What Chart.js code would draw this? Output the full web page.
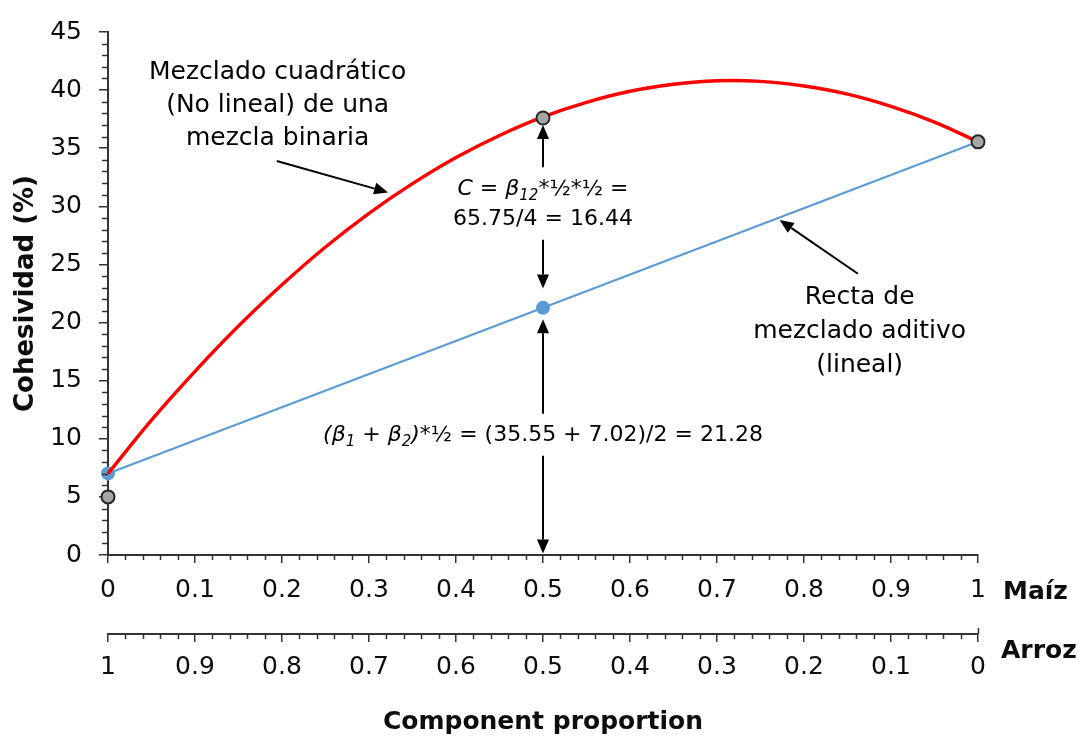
<!DOCTYPE html>
<html><head><meta charset="utf-8">
<script src="https://cdn.jsdelivr.net/npm/chart.js@4.4.1/dist/chart.umd.min.js"></script>
<style>html,body{margin:0;padding:0;background:#fff;}#wrap{width:1083px;height:740px;}</style>
</head><body><div id="wrap"><canvas id="c" width="1083" height="740"></canvas></div>
<script>
// ---- data ----
const proportion = [0,0.05,0.1,0.15,0.2,0.25,0.3,0.35,0.4,0.45,0.5,0.55,0.6,0.65,0.7,0.75,0.8,0.85,0.9,0.95,1];
const quadCohesion = [7.0,11.6,15.8,19.7,23.25,26.5,29.4,31.95,34.2,36.1,37.7,38.95,39.9,40.5,40.8,40.75,40.35,39.65,38.6,37.25,35.55];
const linearX = [0,0.5,1];
const linearCohesion = [7.02,21.28,35.55];
const observedX = [0,0.5,1];
const observedCohesion = [5.0,37.6,35.55];
const yTicks = [0,5,10,15,20,25,30,35,40,45];
const yTickLabels = ['0','5','10','15','20','25','30','35','40','45'];
const maizTicks = [0,0.1,0.2,0.3,0.4,0.5,0.6,0.7,0.8,0.9,1];
const maizTickLabels = ['0','0.1','0.2','0.3','0.4','0.5','0.6','0.7','0.8','0.9','1'];
const arrozTicks = [0,0.1,0.2,0.3,0.4,0.5,0.6,0.7,0.8,0.9,1];
const arrozTickLabels = ['0','0.1','0.2','0.3','0.4','0.5','0.6','0.7','0.8','0.9','1'];
const yTitle = 'Cohesividad (%)';
const xTitle = 'Component proportion';
const maizName = 'Maíz';
const arrozName = 'Arroz';

const FONT = "'DejaVu Sans', sans-serif";
const INK = '#0d0d0d';
const AXIS = '#333';
Chart.defaults.font.family = FONT;
Chart.defaults.color = INK;

function arrow(ctx, x1, y1, x2, y2) {
  const a = Math.atan2(y2 - y1, x2 - x1), L = 14, W = 6;
  const bx = x2 - L * Math.cos(a), by = y2 - L * Math.sin(a);
  ctx.beginPath(); ctx.moveTo(x1, y1); ctx.lineTo(bx, by); ctx.stroke();
  ctx.beginPath(); ctx.moveTo(x2, y2);
  ctx.lineTo(bx + W * Math.sin(a), by - W * Math.cos(a));
  ctx.lineTo(bx - W * Math.sin(a), by + W * Math.cos(a));
  ctx.closePath(); ctx.fill();
}
function richText(ctx, cx, cy, segs, size) {
  const fontOf = s => (s.i ? 'italic ' : '') + (s.sub ? Math.round(size * 0.68) : size) + 'px ' + FONT;
  let total = 0;
  segs.forEach(s => { ctx.font = fontOf(s); s.w = ctx.measureText(s.t).width; total += s.w; });
  let x = cx - total / 2;
  ctx.textAlign = 'left'; ctx.textBaseline = 'middle';
  segs.forEach(s => { ctx.font = fontOf(s); ctx.fillText(s.t, x, cy + (s.sub ? size * 0.3 : 0)); x += s.w; });
}

const overlay = {
  id: 'overlay',
  afterDraw(chart) {
    const ctx = chart.ctx, xs = chart.scales.x, x2s = chart.scales.x2, ys = chart.scales.y;
    const ca = chart.chartArea;
    const P = (x, y) => [xs.getPixelForValue(x), ys.getPixelForValue(y)];
    ctx.save();
    // minor ticks
    ctx.strokeStyle = AXIS; ctx.lineWidth = 1.5; ctx.beginPath();
    for (let i = 0; i <= 45; i++) { if (i % 5) { const y = Math.round(ys.getPixelForValue(i)) + 0.5; ctx.moveTo(ca.left - 6, y); ctx.lineTo(ca.left, y); } }
    for (let i = 0; i <= 50; i++) { if (i % 5) {
      const x = Math.round(xs.getPixelForValue(i / 50)) + 0.5; ctx.moveTo(x, xs.top); ctx.lineTo(x, xs.top + 5);
      const x2 = Math.round(x2s.getPixelForValue(i / 50)) + 0.5; ctx.moveTo(x2, x2s.top); ctx.lineTo(x2, x2s.top + 5);
    } }
    const xe = Math.round(x2s.getPixelForValue(0)) + 0.5; ctx.moveTo(xe, x2s.top - 6); ctx.lineTo(xe, x2s.top);
    ctx.stroke();
    // axis names
    ctx.fillStyle = INK; ctx.textAlign = 'left'; ctx.textBaseline = 'middle';
    ctx.font = 'bold 25px ' + FONT;
    ctx.fillText(maizName, ca.right + 25, xs.top + 37);
    ctx.fillText(arrozName, ca.right + 23, x2s.top + 17);
    // annotations
    ctx.strokeStyle = '#000'; ctx.fillStyle = '#000'; ctx.lineWidth = 2;
    ctx.textAlign = 'center'; ctx.font = '25px ' + FONT;
    let [ax, ay] = P(0.195, 41.5);
    ['Mezclado cuadrático', '(No lineal) de una', 'mezcla binaria'].forEach((t, k) => ctx.fillText(t, ax, ay + k * 33));
    arrow(ctx, ...P(0.194, 33.9), ...P(0.322, 31.2));
    [ax, ay] = P(0.864, 22.16);
    ctx.textAlign = 'center';
    ['Recta de', 'mezclado aditivo', '(lineal)'].forEach((t, k) => ctx.fillText(t, ax, ay + k * 34));
    arrow(ctx, ...P(0.862, 24.2), ...P(0.772, 28.83));
    // centre annotations
    const cx = xs.getPixelForValue(0.5);
    richText(ctx, cx, ys.getPixelForValue(31.48), [{t:'C',i:1},{t:' = '},{t:'β',i:1},{t:'12',i:1,sub:1},{t:'*½*½ ='}], 22);
    richText(ctx, cx, ys.getPixelForValue(28.92), [{t:'65.75/4 = 16.44'}], 22);
    richText(ctx, cx, ys.getPixelForValue(10.27), [{t:'(β',i:1},{t:'1',i:1,sub:1},{t:' + β',i:1},{t:'2',i:1,sub:1},{t:')',i:1},{t:'*½ = (35.55 + 7.02)/2 = 21.28'}], 22);
    arrow(ctx, ...P(0.5, 33.36), ...P(0.5, 37.0));
    arrow(ctx, ...P(0.5, 27.12), ...P(0.5, 22.93));
    arrow(ctx, ...P(0.5, 12.15), ...P(0.5, 20.28));
    arrow(ctx, ...P(0.5, 8.55), ...P(0.5, 0.12));
    ctx.restore();
  }
};

new Chart(document.getElementById('c'), {
  type: 'scatter',
  data: {
    datasets: [
      { label: 'observed', order: 0, data: observedX.map((x, i) => ({x, y: observedCohesion[i]})),
        showLine: false, pointRadius: 6.5, pointBackgroundColor: '#a6a6a6', pointBorderColor: '#262626', pointBorderWidth: 2, clip: false },
      { label: 'quadratic', order: 1, data: proportion.map((x, i) => ({x, y: quadCohesion[i]})),
        showLine: true, borderColor: '#ff0000', borderWidth: 3.4, pointRadius: 0, tension: 0.4, clip: false },
      { label: 'linear', order: 2, data: linearX.map((x, i) => ({x, y: linearCohesion[i]})),
        showLine: true, borderColor: '#5b9bd5', borderWidth: 2.2, pointRadius: [7, 7, 0], pointBackgroundColor: '#5b9bd5', pointBorderWidth: 0, clip: false }
    ]
  },
  options: {
    responsive: false, animation: false, devicePixelRatio: 1,
    layout: { padding: { top: 29, right: 105, left: 0, bottom: 0 } },
    plugins: { legend: { display: false }, tooltip: { enabled: false } },
    scales: {
      x: { type: 'linear', position: 'bottom', weight: 0, min: 0, max: 1,
        afterBuildTicks: s => { s.ticks = maizTicks.map(v => ({value: v})); },
        afterFit: s => { s.height = 79; },
        ticks: { autoSkip: false, maxRotation: 0, padding: 12, color: INK, font: { size: 25 }, callback: (v, i) => maizTickLabels[i] },
        grid: { drawOnChartArea: false, drawTicks: true, tickLength: 8, color: AXIS, lineWidth: 1.5 },
        border: { display: true, color: AXIS, width: 2 } },
      x2: { type: 'linear', position: 'bottom', weight: 1, min: 0, max: 1, reverse: true,
        afterBuildTicks: s => { s.ticks = arrozTicks.map(v => ({value: v})); },
        afterFit: s => { s.height = 106; },
        ticks: { autoSkip: false, maxRotation: 0, padding: 10, color: INK, font: { size: 25 }, callback: (v, i) => arrozTickLabels[i] },
        grid: { drawOnChartArea: false, drawTicks: true, tickLength: 8, color: AXIS, lineWidth: 1.5 },
        border: { display: true, color: AXIS, width: 2 },
        title: { display: true, text: xTitle, color: INK, font: { size: 25, weight: 'bold' }, padding: { top: 0, bottom: 3 } } },
      y: { type: 'linear', position: 'left', min: 0, max: 45,
        afterBuildTicks: s => { s.ticks = yTicks.map(v => ({value: v})); },
        afterFit: s => { s.width = 108; },
        ticks: { padding: 17, color: INK, font: { size: 25 }, callback: (v, i) => yTickLabels[i] },
        grid: { drawOnChartArea: false, drawTicks: true, tickLength: 9, color: AXIS, lineWidth: 1.5 },
        border: { display: true, color: AXIS, width: 2 },
        title: { display: true, text: yTitle, color: INK, font: { size: 26, weight: 'bold' }, padding: { top: 11, bottom: 0 } } }
    }
  },
  plugins: [overlay]
});
</script></body></html>
